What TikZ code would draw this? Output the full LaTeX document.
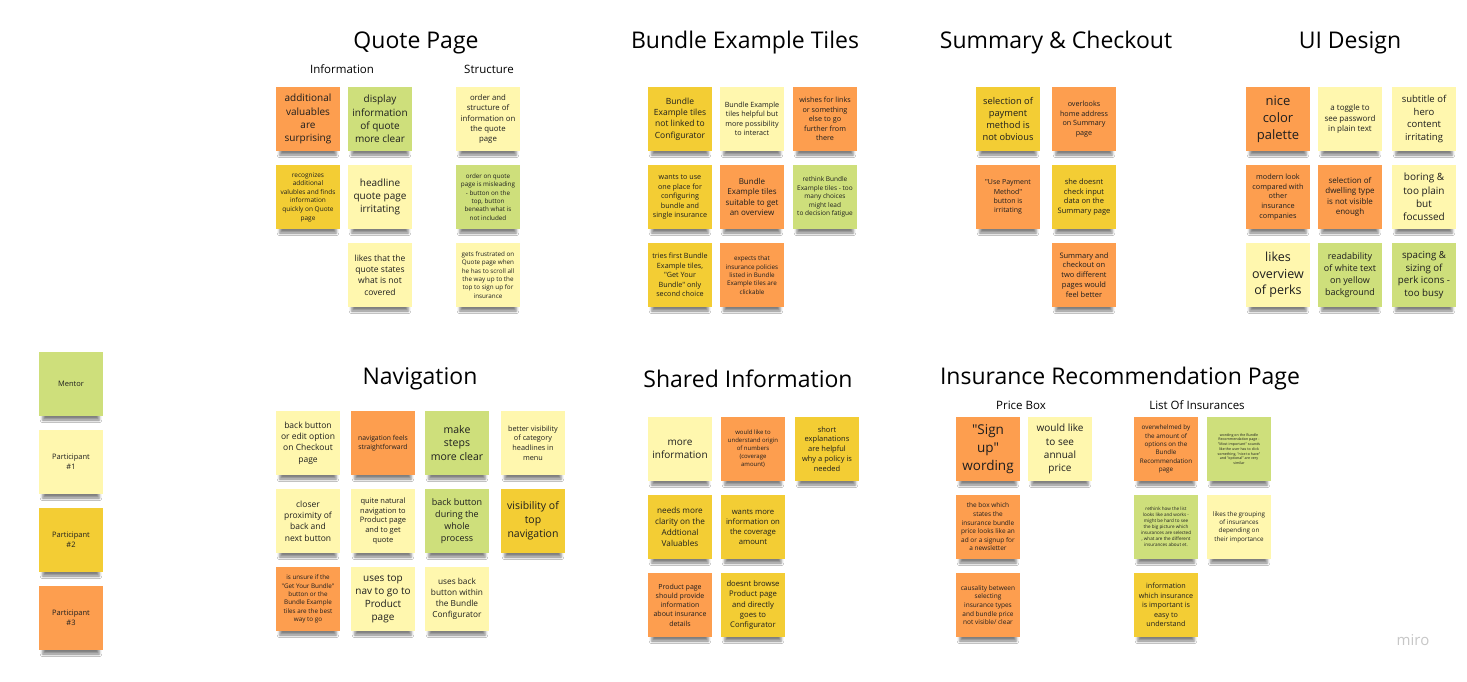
\documentclass[tikz,border=0pt]{standalone}
\usepackage{fontspec}
\setmainfont{Open Sans}[Ligatures=TeXOff]
\usetikzlibrary{shadows.blur}

\definecolor{mentor}{HTML}{CEDF7B}
\definecolor{pone}{HTML}{FFF7AE}
\definecolor{ptwo}{HTML}{F3CD34}
\definecolor{pthree}{HTML}{FD9E4F}
\definecolor{ink}{HTML}{1E1E1E}

\tikzset{
  note/.style={rectangle, minimum width=64pt, minimum height=64pt, inner sep=0pt,
    align=center, text=ink,
    blur shadow={shadow xshift=0pt, shadow yshift=-9pt, shadow scale=0.88,
      shadow opacity=50, shadow blur radius=3pt}},
  heading/.style={font=\fontsize{23}{27}\selectfont, text=black},
  subheading/.style={font=\fontsize{11.5}{14}\selectfont, text=black},
}

% \sticky{name}{left}{top}{colour}{font size}{text}
\newcommand\sticky[6]{%
  \pgfmathsetmacro\stickylead{#5*1.32}%
  \node[note, fill=#4, font=\fontsize{#5}{\stickylead}\selectfont] (#1) at (#2+32, #3+32) {#6};}

\begin{document}
\begin{tikzpicture}[x=1pt, y=-1pt]
\fill[white] (0,0) rectangle (1467,681);
\useasboundingbox (0,0) rectangle (1467,681);

% ---------- section headings ----------
\node[heading] (hq) at (416,43) {Quote Page};
\node[heading] (hb) at (745,43) {Bundle Example Tiles};
\node[heading] (hs) at (1056,43) {Summary \& Checkout};
\node[heading] (hu) at (1350,43) {UI Design};
\node[heading] (hn) at (420,379) {Navigation};
\node[heading] (hi) at (748,379) {Shared Information};
\node[heading] (hr) at (1120,379) {Insurance Recommendation Page};

\node[subheading] (sinfo) at (342,69) {Information};
\node[subheading] (sstruct) at (489,69) {Structure};
\node[subheading] (sprice) at (1021,405) {Price Box};
\node[subheading] (slist) at (1197,405) {List Of Insurances};

% ---------- Quote Page ----------
\sticky{qp1}{276}{87}{pthree}{10}{additional\\valuables\\are\\surprising}
\sticky{qp2}{348}{87}{mentor}{10}{display\\information\\of quote\\more clear}
\sticky{qp3}{456}{87}{pone}{7.8}{order and\\structure of\\information on\\the quote\\page}
\sticky{qp4}{276}{165}{ptwo}{6.5}{recognizes\\additional\\valubles and finds\\information\\quickly on Quote\\page}
\sticky{qp5}{348}{165}{pone}{10}{headline\\quote page\\irritating}
\sticky{qp6}{456}{165}{mentor}{6.3}{order on quote\\page is misleading\\- button on the\\top, button\\beneath what is\\not included}
\sticky{qp7}{348}{243}{pone}{8.5}{likes that the\\quote states\\what is not\\covered}
\sticky{qp8}{456}{243}{pone}{6.3}{gets frustrated on\\Quote page when\\he has to scroll all\\the way up to the\\top to sign up for\\insurance}

% ---------- Bundle Example Tiles ----------
\sticky{be1}{648}{87}{ptwo}{8.5}{Bundle\\Example tiles\\not linked to\\Configurator}
\sticky{be2}{720}{87}{pone}{7.2}{Bundle Example\\tiles helpful but\\more possibility\\to interact}
\sticky{be3}{793}{87}{pthree}{7.2}{wishes for links\\or something\\else to go\\further from\\there}
\sticky{be4}{648}{165}{ptwo}{7.2}{wants to use\\one place for\\configuring\\bundle and\\single insurance}
\sticky{be5}{720}{165}{pthree}{8}{Bundle\\Example tiles\\suitable to get\\an overview}
\sticky{be6}{793}{165}{mentor}{6.5}{rethink Bundle\\Example tiles - too\\many choices\\might lead\\to decision fatigue}
\sticky{be7}{648}{243}{ptwo}{7.2}{tries first Bundle\\Example tiles,\\"Get Your\\Bundle" only\\second choice}
\sticky{be8}{720}{243}{pthree}{6.3}{expects that\\insurance policies\\listed in Bundle\\Example tiles are\\clickable}

% ---------- Summary & Checkout ----------
\sticky{sc1}{976}{87}{ptwo}{9.3}{selection of\\payment\\method is\\not obvious}
\sticky{sc2}{1052}{87}{pthree}{7.2}{overlooks\\home address\\on Summary\\page}
\sticky{sc3}{976}{165}{pthree}{7}{"Use Payment\\Method"\\button is\\irritating}
\sticky{sc4}{1052}{165}{ptwo}{7.5}{she doesnt\\check input\\data on the\\Summary page}
\sticky{sc5}{1052}{243}{pthree}{7.5}{Summary and\\checkout on\\two different\\pages would\\feel better}

% ---------- UI Design ----------
\sticky{ui1}{1246}{87}{pthree}{13}{nice\\color\\palette}
\sticky{ui2}{1318}{87}{pone}{8}{a toggle to\\see password\\in plain text}
\sticky{ui3}{1392}{87}{pone}{9.5}{subtitle of\\hero\\content\\irritating}
\sticky{ui4}{1246}{165}{pthree}{7.3}{modern look\\compared with\\other\\insurance\\companies}
\sticky{ui5}{1318}{165}{pthree}{8}{selection of\\dwelling type\\is not visible\\enough}
\sticky{ui6}{1392}{165}{pone}{10}{boring \&\\too plain\\but\\focussed}
\sticky{ui7}{1246}{243}{pone}{12.5}{likes\\overview\\of perks}
\sticky{ui8}{1318}{243}{mentor}{9}{readability\\of white text\\on yellow\\background}
\sticky{ui9}{1392}{243}{mentor}{9.7}{spacing \&\\sizing of\\perk icons -\\too busy}

% ---------- Navigation ----------
\sticky{nv1}{276}{411}{pone}{8.5}{back button\\or edit option\\on Checkout\\page}
\sticky{nv2}{351}{411}{pthree}{6.8}{navigation feels\\straightforward}
\sticky{nv3}{425}{411}{mentor}{10.5}{make\\steps\\more clear}
\sticky{nv4}{501}{411}{pone}{7.3}{better visibility\\of category\\headlines in\\menu}
\sticky{nv5}{276}{489}{pone}{8.5}{closer\\proximity of\\back and\\next button}
\sticky{nv6}{351}{489}{pone}{7.5}{quite natural\\navigation to\\Product page\\and to get\\quote}
\sticky{nv7}{425}{489}{mentor}{9}{back button\\during the\\whole\\process}
\sticky{nv8}{501}{489}{ptwo}{10.5}{visibility of\\top\\navigation}
\sticky{nv9}{276}{567}{pthree}{6.3}{is unsure if the\\"Get Your Bundle"\\button or the\\Bundle Example\\tiles are the best\\way to go}
\sticky{nv10}{351}{567}{pone}{10}{uses top\\nav to go to\\Product\\page}
\sticky{nv11}{425}{567}{pone}{8.3}{uses back\\button within\\the Bundle\\Configurator}

% ---------- Shared Information ----------
\sticky{si1}{648}{417}{pone}{10}{more\\information}
\sticky{si2}{721}{417}{pthree}{6}{would like to\\understand origin\\of numbers\\(coverage\\amount)}
\sticky{si3}{795}{417}{ptwo}{7.5}{short\\explanations\\are helpful\\why a policy is\\needed}
\sticky{si4}{648}{495}{ptwo}{8.2}{needs more\\clarity on the\\Addtional\\Valuables}
\sticky{si5}{721}{495}{ptwo}{7.7}{wants more\\information on\\the coverage\\amount}
\sticky{si6}{648}{573}{pthree}{7}{Product page\\should provide\\information\\about insurance\\details}
\sticky{si7}{721}{573}{ptwo}{7.7}{doesnt browse\\Product page\\and directly\\goes to\\Configurator}

% ---------- Insurance Recommendation Page ----------
\sticky{ir1}{956}{417}{pthree}{13.5}{"Sign\\up"\\wording}
\sticky{ir2}{1028}{417}{pone}{10}{would like\\to see\\annual\\price}
\sticky{ir3}{956}{495}{pthree}{6.5}{the box which\\states the\\insurance bundle\\price looks like an\\ad or a signup for\\a newsletter}
\sticky{ir4}{956}{573}{pthree}{6.5}{causality between\\selecting\\insurance types\\and bundle price\\not visible/ clear}
\sticky{ir5}{1134}{417}{pthree}{6.3}{overwhelmed by\\the amount of\\options on the\\Bundle\\Recommendation\\page}
\sticky{ir6}{1207}{417}{mentor}{3.6}{wording on the Bundle\\Recommendation page -\\"Most important" sounds\\like the user has to click\\something, "nice to have"\\and "optional" are very\\similar}
\sticky{ir7}{1134}{495}{mentor}{4.6}{rethink how the list\\looks like and works -\\might be hard to see\\the big picture which\\insurances are selected\\, what are the different\\insurances about et.}
\sticky{ir8}{1207}{495}{pone}{6.3}{likes the grouping\\of insurances\\depending on\\their importance}
\sticky{ir9}{1134}{573}{ptwo}{7.2}{information\\which insurance\\is important is\\easy to\\understand}

% ---------- legend ----------
\sticky{lg1}{39}{352}{mentor}{7.5}{Mentor}
\sticky{lg2}{39}{430}{pone}{7.5}{Participant\\\#1}
\sticky{lg3}{39}{508}{ptwo}{7.5}{Participant\\\#2}
\sticky{lg4}{39}{586}{pthree}{7.5}{Participant\\\#3}

% ---------- board mark ----------
\node[text=black!22, font=\fontsize{15}{18}\selectfont] (mark) at (1413,640) {miro};
\end{tikzpicture}
\end{document}
